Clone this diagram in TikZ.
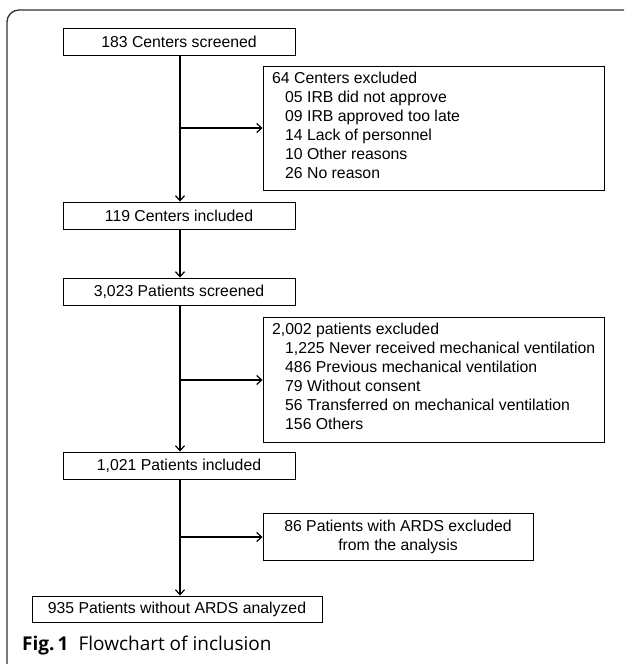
\documentclass[tikz,border=0pt]{standalone}
\usepackage{fontspec}
\setmainfont{Liberation Sans}
\newfontfamily\capfont{Open Sans}
\usetikzlibrary{arrows.meta}
\begin{document}
\begin{tikzpicture}[x=1pt,y=-1pt,
  box/.style={draw=black,line width=0.9pt,inner sep=0pt,font=\fontsize{15.8}{19}\selectfont,align=center},
  flow/.style={line width=1.4pt,-{Straight Barb[length=5pt,width=9pt,line width=1.2pt]}}]
\useasboundingbox (0,0) rectangle (624,664);
\begin{scope}
\clip (0,0) rectangle (624,664);
\draw[line width=1.3pt,draw=black!80,rounded corners=12pt] (7,10) rectangle (660,700);
\end{scope}
% main boxes
\node[box,minimum width=232pt,minimum height=27pt] (b1) at (179,41.5) {183 Centers screened};
\node[box,minimum width=232pt,minimum height=27pt] (b2) at (179,215.5) {119 Centers included};
\node[box,minimum width=232pt,minimum height=27pt] (b3) at (179,291.5) {3,023 Patients screened};
\node[box,minimum width=232pt,minimum height=27pt] (b4) at (179,465.5) {1,021 Patients included};
\node[box,minimum width=290pt,minimum height=26pt] (b5) at (177,609) {935 Patients without ARDS analyzed};
% exclusion boxes
\node[draw=black,line width=0.9pt,minimum width=341pt,minimum height=124pt,inner sep=0pt] (e1) at (433.5,128) {};
\node[anchor=north west,inner sep=0pt,font=\fontsize{15.8}{19}\selectfont,align=left] (e1t) at (272,72) {64 Centers excluded\\
\hspace*{13pt}05 IRB did not approve\\
\hspace*{13pt}09 IRB approved too late\\
\hspace*{13pt}14 Lack of personnel\\
\hspace*{13pt}10 Other reasons\\
\hspace*{13pt}26 No reason};
\node[draw=black,line width=0.9pt,minimum width=341pt,minimum height=125pt,inner sep=0pt] (e2) at (433.5,380) {};
\node[anchor=north west,inner sep=0pt,font=\fontsize{15.8}{19}\selectfont,align=left] (e2t) at (272,323) {2,002 patients excluded\\
\hspace*{13pt}1,225 Never received mechanical ventilation\\
\hspace*{13pt}486 Previous mechanical ventilation\\
\hspace*{13pt}79 Without consent\\
\hspace*{13pt}56 Transferred on mechanical ventilation\\
\hspace*{13pt}156 Others};
\node[box,minimum width=270pt,minimum height=47pt] (e3) at (398,537) {86 Patients with ARDS excluded\\from the analysis};
% connectors
\coordinate (j1) at (b1.south |- e1.west);
\coordinate (j2) at (b3.south |- e2.west);
\coordinate (j3) at (b4.south |- e3.west);
\draw[flow] ([xshift=1pt]b1.south) -- ([xshift=1pt]b2.north);
\draw[flow] ([xshift=1pt]j1) -- (e1.west);
\draw[flow] ([xshift=1pt]b2.south) -- ([xshift=1pt]b3.north);
\draw[flow] ([xshift=1pt]b3.south) -- ([xshift=1pt]b4.north);
\draw[flow] ([xshift=1pt]j2) -- (e2.west);
\draw[flow] ([xshift=1pt]b4.south) -- ([xshift=3pt]b5.north);
\draw[flow] ([xshift=1pt]j3) -- (e3.west);
% caption
\node[anchor=base west,inner sep=0pt,font=\capfont\fontsize{19}{22}\selectfont] (cap) at (22,650) {\textbf{Fig.\,1}\hspace{10pt}Flowchart of inclusion};
\end{tikzpicture}
\end{document}
